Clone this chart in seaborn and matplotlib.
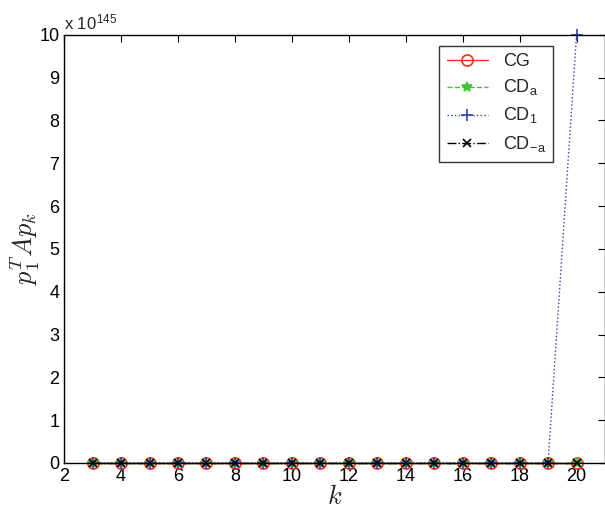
import numpy as np
import pandas as pd
import matplotlib
matplotlib.use("Agg")
import matplotlib.pyplot as plt
import seaborn as sns
from matplotlib.ticker import FuncFormatter, MultipleLocator

k = list(range(3, 21))
cg = [0.0] * 18
cda = [0.0] * 18
cd1 = [0.0] * 17 + [1e146]
cdma = [0.0] * 18
labels = ["CG", r"CD$_\mathregular{a}$", r"CD$_\mathregular{1}$", r"CD$_\mathregular{-a}$"]

sns.set_style("white")
plt.rcParams['font.family'] = ['Liberation Sans', 'DejaVu Sans']
plt.rcParams['mathtext.fontset'] = 'cm'

fig = plt.figure(figsize=(6.05, 5.11), dpi=100)
ax = fig.add_axes([0.106, 0.094, 0.894, 0.838])

styles = [
    dict(y=cg, color="#ff2a1a", ls="-", marker="o", mfc="none", ms=8),
    dict(y=cda, color="#44c434", ls="--", marker="*", mfc="#44c434", ms=7),
    dict(y=cd1, color="#3040b0", ls=":", marker="+", mfc="none", ms=8),
    dict(y=cdma, color="black", ls="-.", marker="x", mfc="none", ms=6),
]
for s, lab in zip(styles, labels):
    df = pd.DataFrame({"k": k, "v": s["y"]})
    sns.lineplot(data=df, x="k", y="v", ax=ax, color=s["color"], linestyle=s["ls"],
                 marker=s["marker"], markersize=s["ms"], markerfacecolor=s["mfc"],
                 markeredgecolor=s["color"], markeredgewidth=1.2, linewidth=1.0, label=lab,
                 clip_on=False)

ax.set_xlim(2, 21)
ax.set_ylim(0, 1e146)
ax.xaxis.set_major_locator(MultipleLocator(2))
ax.yaxis.set_major_locator(MultipleLocator(1e145))
ax.yaxis.set_major_formatter(FuncFormatter(lambda v, p: f"{v/1e145:.0f}"))
ax.tick_params(direction="in", length=5, labelsize=13, top=True, right=True, colors="black")
for sp in ax.spines.values():
    sp.set_color("black")
    sp.set_linewidth(1.0)
ax.set_xlabel(r"$k$", fontsize=19, labelpad=0)
ax.set_ylabel(r"$p_1^T A p_k$", fontsize=19)
ax.yaxis.set_label_coords(-0.04, 0.5)
ax.text(0.0, 1.005, r"x 10$^\mathregular{145}$", transform=ax.transAxes, fontsize=12,
        ha="left", va="bottom")
leg = ax.legend(loc="upper right", bbox_to_anchor=(0.904, 0.974), borderaxespad=0,
                fontsize=13, frameon=True, fancybox=False, edgecolor="black",
                handlelength=2.3, borderpad=0.4, labelspacing=0.45)
leg.get_frame().set_linewidth(1.0)
leg.set_zorder(5)
fig.savefig("out.png", dpi=100)
